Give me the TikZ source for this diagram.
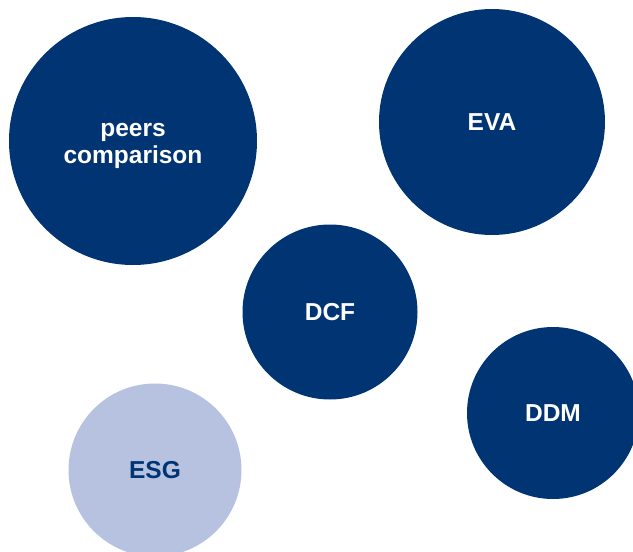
\documentclass[tikz,border=0pt]{standalone}
\usepackage{fontspec}
\setmainfont{Liberation Sans}
\usepackage{xcolor}
\usepackage{tikz}
\usetikzlibrary{shapes,positioning}
\definecolor{navyDark}{HTML}{003473}
\definecolor{blueLight}{HTML}{B6C2E0}
\tikzset{method-node/.style={circle, fill=navyDark, text=white, inner sep=0, align=center,
        font=\fontsize{24.5}{27.5}\selectfont\bfseries}}
\tikzset{soft-node/.style={method-node, fill=blueLight, text=navyDark}}
\begin{document}
\begin{tikzpicture}[x=1pt, y=-1pt]
    \useasboundingbox (0,0) rectangle (633,552);
    \node[method-node, minimum size=248pt] (peers) at (133,141) {};
    \node[text=white, align=center, font=\fontsize{24.5}{27.5}\selectfont\bfseries]
        (peerslabel) at (133,146) {peers\\comparison};
    \node[method-node, minimum size=226pt] (eva) at (492,122) {EVA};
    \node[method-node, minimum size=175pt] (dcf) at (330,312) {DCF};
    \node[method-node, minimum size=172pt] (ddm) at (553,413) {DDM};
    \node[soft-node, minimum size=173pt] (esg) at (155,470) {ESG};
\end{tikzpicture}
\end{document}
